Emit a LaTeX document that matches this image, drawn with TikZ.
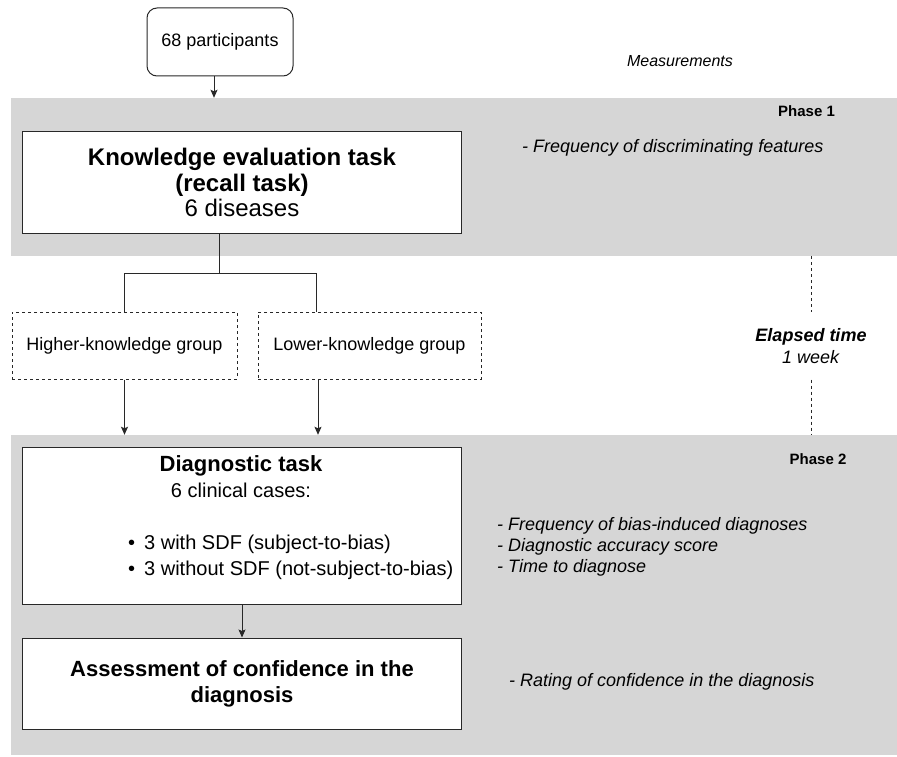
\documentclass[tikz,border=0pt]{standalone}
\usepackage{fontspec}
\setmainfont{Liberation Sans}
\usetikzlibrary{positioning, arrows.meta, calc}

\definecolor{phasegray}{RGB}{214,214,214}
\definecolor{lineclr}{RGB}{40,40,40}

\begin{document}
\begin{tikzpicture}[
	x=1pt, y=-1pt, % pixel grid, y pointing down
	>={Stealth[length=8pt, width=7pt, inset=1.5pt]},
	% Style for Nodes
	band/.style={rectangle, fill=phasegray, draw=none, inner sep=0pt, minimum width=886pt},
	object/.style={
		rectangle,
		draw=lineclr,
		line width=1pt,
		fill=white,
		align=center,
		inner sep=0pt
	},
	% Specific Node Styles
	start/.style={object, rounded corners=10pt, minimum width=146pt, minimum height=68pt, font=\fontsize{18}{21}\selectfont},
	taskbox/.style={object, minimum width=439pt},
	group/.style={object, dash pattern=on 3pt off 3pt, minimum height=67pt, font=\fontsize{18}{21}\selectfont},
	measure/.style={font=\fontsize{18}{21}\selectfont\itshape, align=left, inner sep=0pt, anchor=west},
	phase/.style={font=\fontsize{15}{18}\selectfont\bfseries, inner sep=0pt},
	% Arrow Styles
	connection/.style={->, draw=lineclr, line width=1pt},
	link/.style={draw=lineclr, line width=1pt},
	timeline/.style={draw=lineclr, line width=1pt, dash pattern=on 3pt off 3pt}
	]
	
	\useasboundingbox (0,0) rectangle (897,757);
	
	% --- PHASE BANDS ---
	\node[band, minimum height=158pt] (band1) at (454,177) {};
	\node[band, minimum height=320pt] (band2) at (454,595) {};
	\node[phase] (ph1) at (806.5,111) {Phase 1};
	\node[phase] (ph2) at (818,459) {Phase 2};
	
	% --- PHASE 1: KNOWLEDGE ---
	
	% Participants
	\node[start] (part) at (220,42) {68 participants};
	
	% Recall task
	\node[taskbox, minimum height=101pt, font=\fontsize{24}{25.5}\selectfont] (know) at (242,182.5) {\textbf{Knowledge evaluation task}\\\textbf{(recall task)}\\6 diseases};
	
	% Knowledge groups
	\node[group, minimum width=225pt] (higher) at (124.5,345.5) {Higher-knowledge group};
	\node[group, minimum width=223pt, right=20pt of higher] (lower) {Lower-knowledge group};
	
	% --- PHASE 2: DIAGNOSIS ---
	
	% Diagnostic task
	\node[taskbox, minimum height=157pt] (diag) at (242,525.5) {};
	\node[font=\fontsize{20}{26}\selectfont, align=center, inner sep=0pt] (diagTitle) at (241,477) {{\fontsize{22}{26}\selectfont\bfseries Diagnostic task}\\6 clinical cases:};
	\node[font=\fontsize{20}{26}\selectfont, align=left, anchor=west, inner sep=0pt] (diagCases) at (128,557) {\textbullet\hspace{9pt}3 with SDF (subject-to-bias)\\\textbullet\hspace{9pt}3 without SDF (not-subject-to-bias)};
	
	% Confidence rating
	\node[taskbox, minimum height=91pt, below=33pt of diag, font=\fontsize{22}{26}\selectfont] (assess) {\textbf{Assessment of confidence in the}\\\textbf{diagnosis}};
	
	% --- MEASUREMENTS ---
	\node[font=\fontsize{16}{19}\selectfont\itshape] (meas) at (680,61) {Measurements};
	\node[measure] (m1) at (522,148) {- Frequency of discriminating features};
	\node[measure] (m2) at (497,547) {- Frequency of bias-induced diagnoses\\- Diagnostic accuracy score\\- Time to diagnose};
	\node[measure] (m3) at (509,682) {- Rating of confidence in the diagnosis};
	
	% Elapsed time between phases
	\node[font=\fontsize{18}{22}\selectfont, align=center, minimum height=67pt, inner sep=0pt] (elapsed) at (811,346) {\textbf{\textit{Elapsed time}}\\\textit{1 week}};
	\draw[timeline] (band1.south -| elapsed.north) -- (elapsed.north);
	\draw[timeline] (elapsed.south) -- (elapsed.south |- band2.north);
	
	% --- CONNECTIONS ---
	\draw[connection] ([xshift=-6pt]part.south) -- ([xshift=-6pt]part.south |- band1.north);
	
	% Split into groups
	\coordinate (split) at (219,273);
	\draw[link] (know.south -| split) -- (split);
	\draw[link] (split) -| (higher.north);
	\draw[link] (split) -| ([xshift=-53pt]lower.north);
	
	\draw[connection] (higher.south) -- (higher.south |- band2.north);
	\draw[connection] ([xshift=-51.5pt]lower.south) -- ([xshift=-51.5pt]lower.south |- band2.north);
	\draw[connection] (diag) -- (assess);
	
\end{tikzpicture}
\end{document}
